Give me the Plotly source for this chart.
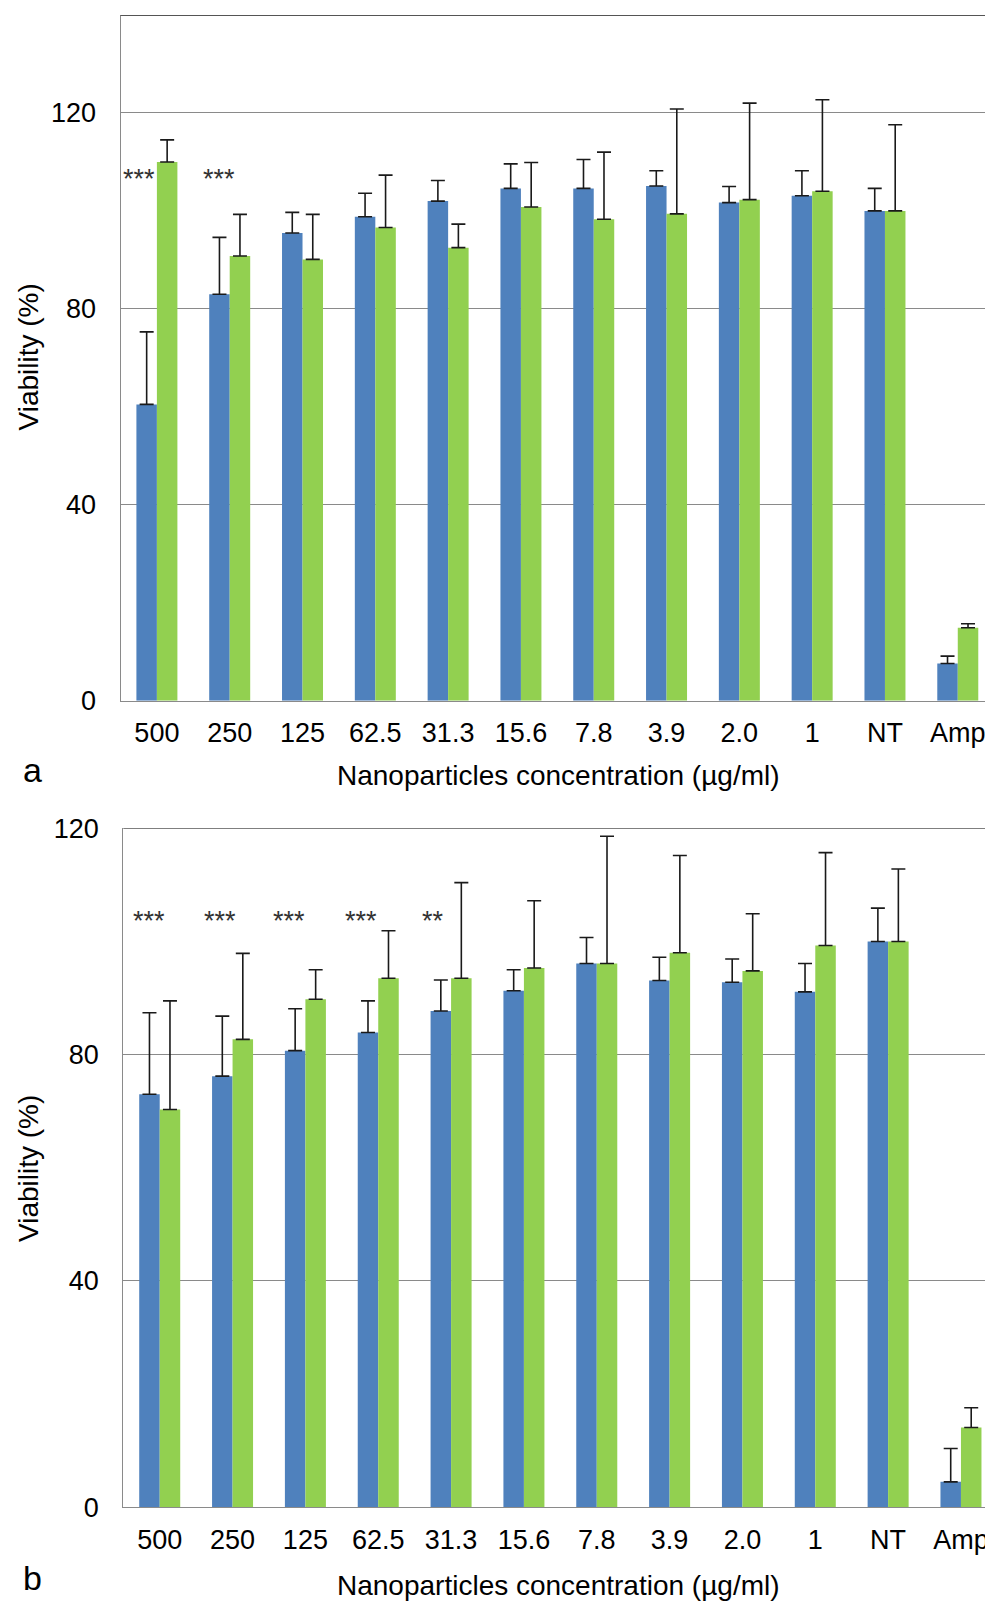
import plotly.graph_objects as go

# Concentration groups (µg/ml) plus untreated and Amp controls
categories = ["500", "250", "125", "62.5", "31.3", "15.6", "7.8", "3.9", "2.0", "1", "NT", "Amp"]

# Panel a: viability (%) and upper error bars
a_blue = [60.5, 83.0, 95.5, 98.8, 102.0, 104.6, 104.6, 105.1, 101.7, 103.1, 100.0, 7.6]
a_blue_err = [14.8, 11.6, 4.2, 4.8, 4.2, 5.0, 5.9, 3.1, 3.3, 5.1, 4.6, 1.5]
a_green = [110.0, 90.8, 90.1, 96.6, 92.5, 100.8, 98.3, 99.4, 102.3, 104.0, 100.0, 14.9]
a_green_err = [4.5, 8.5, 9.2, 10.7, 4.8, 9.1, 13.7, 21.4, 19.7, 18.7, 17.6, 0.8]
a_sig = ["***", "***", "", "", "", "", "", "", "", "", "", ""]

# Panel b: viability (%) and upper error bars
b_blue = [73.0, 76.2, 80.7, 83.9, 87.7, 91.3, 96.1, 93.1, 92.8, 91.1, 100.0, 4.5]
b_blue_err = [14.4, 10.6, 7.4, 5.6, 5.5, 3.7, 4.6, 4.1, 4.1, 5.0, 5.9, 5.9]
b_green = [70.3, 82.7, 89.8, 93.5, 93.5, 95.3, 96.1, 98.0, 94.8, 99.3, 100.0, 14.1]
b_green_err = [19.2, 15.2, 5.2, 8.4, 16.9, 11.9, 22.5, 17.2, 10.1, 16.4, 12.8, 3.5]
b_sig = ["***", "***", "***", "***", "**", "", "", "", "", "", "", ""]

y_ticks = [0, 40, 80, 120]
x_title = "Nanoparticles concentration (µg/ml)"
y_title = "Viability (%)"

BLUE = "#4F81BD"
GREEN = "#92D050"
FONT = "Liberation Sans, Arial, sans-serif"
W, H = 985, 1602

fig = go.Figure()


def err(vals):
    return dict(type="data", symmetric=False, array=vals, arrayminus=[0] * len(vals),
                color="#1a1a1a", thickness=1.6, width=7)


for blue, blue_err, green, green_err, xa, ya in [
    (a_blue, a_blue_err, a_green, a_green_err, "x", "y"),
    (b_blue, b_blue_err, b_green, b_green_err, "x2", "y2"),
]:
    fig.add_trace(go.Bar(x=categories, y=blue, error_y=err(blue_err), marker=dict(color=BLUE, line=dict(width=0)),
                         xaxis=xa, yaxis=ya, showlegend=False))
    fig.add_trace(go.Bar(x=categories, y=green, error_y=err(green_err), marker=dict(color=GREEN, line=dict(width=0)),
                         xaxis=xa, yaxis=ya, showlegend=False))


def px_y(p):
    return 1 - p / H


axis_common = dict(type="category", automargin=False, showgrid=False, zeroline=False, showline=True,
                   linecolor="#8a8a8a", linewidth=1.2,
                   ticks="outside", ticklen=8, tickcolor="rgba(0,0,0,0)",
                   tickfont=dict(family=FONT, size=27, color="#000"), fixedrange=True)
yaxis_common = dict(automargin=False, showgrid=True, gridcolor="#8a8a8a", gridwidth=1.1, zeroline=False,
                    showline=True, linecolor="#8a8a8a", linewidth=1.2, tickvals=y_ticks, ticks="outside",
                    ticklen=18, tickcolor="rgba(0,0,0,0)", tickfont=dict(family=FONT, size=27, color="#000"))

fig.update_layout(
    width=W, height=H, margin=dict(l=0, r=0, t=0, b=0, autoexpand=False),
    paper_bgcolor="white", plot_bgcolor="white",
    barmode="group", bargap=0.437, bargroupgap=0,
    xaxis=dict(axis_common, domain=[120.5 / W, 1], range=[-0.5, 11.374], anchor="y"),
    yaxis=dict(yaxis_common, domain=[px_y(700.7), px_y(15)], range=[0, 140], anchor="x"),
    xaxis2=dict(axis_common, domain=[123.3 / W, 1], range=[-0.5, 11.33], anchor="y2"),
    yaxis2=dict(yaxis_common, domain=[px_y(1507.3), px_y(828.3)], range=[0, 120], anchor="x2"),
)

# Top frame lines of each panel
fig.add_shape(type="line", xref="x domain", yref="y", x0=0, x1=1, y0=140, y1=140,
              line=dict(color="#555555", width=1.8))
fig.add_shape(type="line", xref="x2 domain", yref="y2", x0=0, x1=1, y0=120, y1=120,
              line=dict(color="#555555", width=1.6))

# Significance marks
a_shift = [-18, -11]
b_shift = [-11, -13, -16, -17, -18]
for i, s in enumerate(a_sig):
    if s:
        fig.add_annotation(x=i, y=108, xref="x", yref="y", text=s, showarrow=False, xshift=a_shift[i],
                           yshift=-7, font=dict(family=FONT, size=27, color="#333"))
for i, s in enumerate(b_sig):
    if s:
        fig.add_annotation(x=i, y=104.7, xref="x2", yref="y2", text=s, showarrow=False, xshift=b_shift[i],
                           yshift=-6, font=dict(family=FONT, size=27, color="#333"))

# Axis titles and panel letters
for ty, letter, ly in [(775.8, "a", 770), (1585.5, "b", 1577.5)]:
    fig.add_annotation(x=558 / W, y=px_y(ty), xref="paper", yref="paper", text=x_title, showarrow=False,
                       xanchor="center", yanchor="middle", font=dict(family=FONT, size=28, color="#000"))
    fig.add_annotation(x=32 / W, y=px_y(ly), xref="paper", yref="paper", text=letter, showarrow=False,
                       xanchor="center", yanchor="middle", font=dict(family=FONT, size=34, color="#000"))
for cy in [357.5, 1169]:
    fig.add_annotation(x=28 / W, y=px_y(cy), xref="paper", yref="paper", text=y_title, showarrow=False,
                       textangle=-90, xanchor="center", yanchor="middle",
                       font=dict(family=FONT, size=28, color="#000"))

fig.write_html("out.html")
